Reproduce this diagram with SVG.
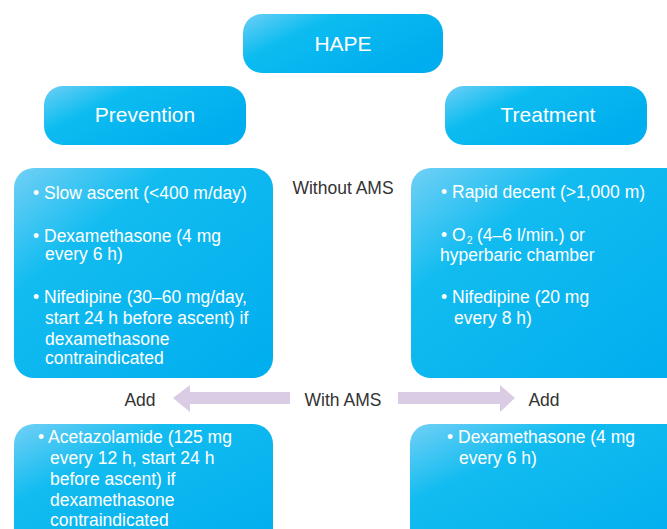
<svg xmlns="http://www.w3.org/2000/svg" width="667" height="529" viewBox="0 0 667 529">
<defs>
<linearGradient id="g" x1="0" y1="0" x2="1" y2="1">
<stop offset="0" stop-color="#72d0f6"/>
<stop offset="0.3" stop-color="#12bcf0"/>
<stop offset="1" stop-color="#00adee"/>
</linearGradient>
<linearGradient id="gs" x1="0" y1="0" x2="1" y2="0.6">
<stop offset="0" stop-color="#6dcff6"/>
<stop offset="0.35" stop-color="#0cbcf0"/>
<stop offset="1" stop-color="#00adee"/>
</linearGradient>
<style>
.box{fill:url(#g);}
.sbox{fill:url(#gs);}
.h{font-family:"Liberation Sans","Open Sans",sans-serif;font-size:21px;fill:#fff;text-anchor:middle;}
.t{font-family:"Liberation Sans","Open Sans",sans-serif;font-size:17.5px;fill:#fff;}
.sub{font-family:"Liberation Sans","Open Sans",sans-serif;font-size:10px;fill:#fff;}
.l{font-family:"Liberation Sans","Open Sans",sans-serif;font-size:17.5px;fill:#333;}
.arr{fill:#d9cce4;}
</style>
</defs>
<g id="hape">
<rect class="sbox" x="243" y="14" width="200" height="59" rx="19"/>
<text class="h" x="343" y="51">HAPE</text>
</g>
<g id="prevention">
<rect class="sbox" x="44" y="86" width="202" height="59" rx="19"/>
<text class="h" x="145" y="122">Prevention</text>
</g>
<g id="treatment">
<rect class="sbox" x="445" y="86" width="202" height="59" rx="19"/>
<text class="h" x="548" y="122">Treatment</text>
</g>
<g id="prev-no-ams">
<rect class="box" x="14" y="168" width="259" height="210" rx="20"/>
<text class="t"><tspan x="33" y="199">• Slow ascent (&lt;400 m/day)</tspan><tspan x="33" y="242">• Dexamethasone (4 mg</tspan><tspan x="45" y="260">every 6 h)</tspan><tspan x="33" y="303">• Nifedipine (30–60 mg/day,</tspan><tspan x="45" y="324">start 24 h before ascent) if</tspan><tspan x="45" y="345">dexamethasone</tspan><tspan x="45" y="364">contraindicated</tspan></text>
</g>
<g id="treat-no-ams">
<rect class="box" x="411" y="168" width="276" height="210" rx="20"/>
<text class="t" x="441" y="198">• Rapid decent (&gt;1,000 m)</text>
<text class="t" x="441" y="241">• O</text>
<text class="sub" x="467" y="244">2</text>
<text class="t" x="477" y="241">(4–6 l/min.) or</text>
<text class="t"><tspan x="440" y="261">hyperbaric chamber</tspan><tspan x="441" y="303">• Nifedipine (20 mg</tspan><tspan x="454" y="324">every 8 h)</tspan></text>
</g>
<g id="prev-ams">
<rect class="box" x="14" y="424" width="259" height="130" rx="20"/>
<text class="t"><tspan x="38" y="443">• Acetazolamide (125 mg</tspan><tspan x="50" y="464">every 12 h, start 24 h</tspan><tspan x="50" y="485">before ascent) if</tspan><tspan x="50" y="506">dexamethasone</tspan><tspan x="50" y="526">contraindicated</tspan></text>
</g>
<g id="treat-ams">
<rect class="box" x="410" y="424" width="276" height="130" rx="20"/>
<text class="t"><tspan x="447" y="443">• Dexamethasone (4 mg</tspan><tspan x="459" y="464">every 6 h)</tspan></text>
</g>
<g id="connectors">
<polygon class="arr" points="290,392 190,392 190,385 173,398 190,412 190,404 290,404"/>
<polygon class="arr" points="398,392 500,392 500,385 515,398 500,412 500,404 398,404"/>
</g>
<g id="labels">
<text class="l" x="343" y="194" text-anchor="middle">Without AMS</text>
<text class="l" x="343" y="406" text-anchor="middle">With AMS</text>
<text class="l" x="140" y="406" text-anchor="middle">Add</text>
<text class="l" x="544" y="406" text-anchor="middle">Add</text>
</g>
</svg>
